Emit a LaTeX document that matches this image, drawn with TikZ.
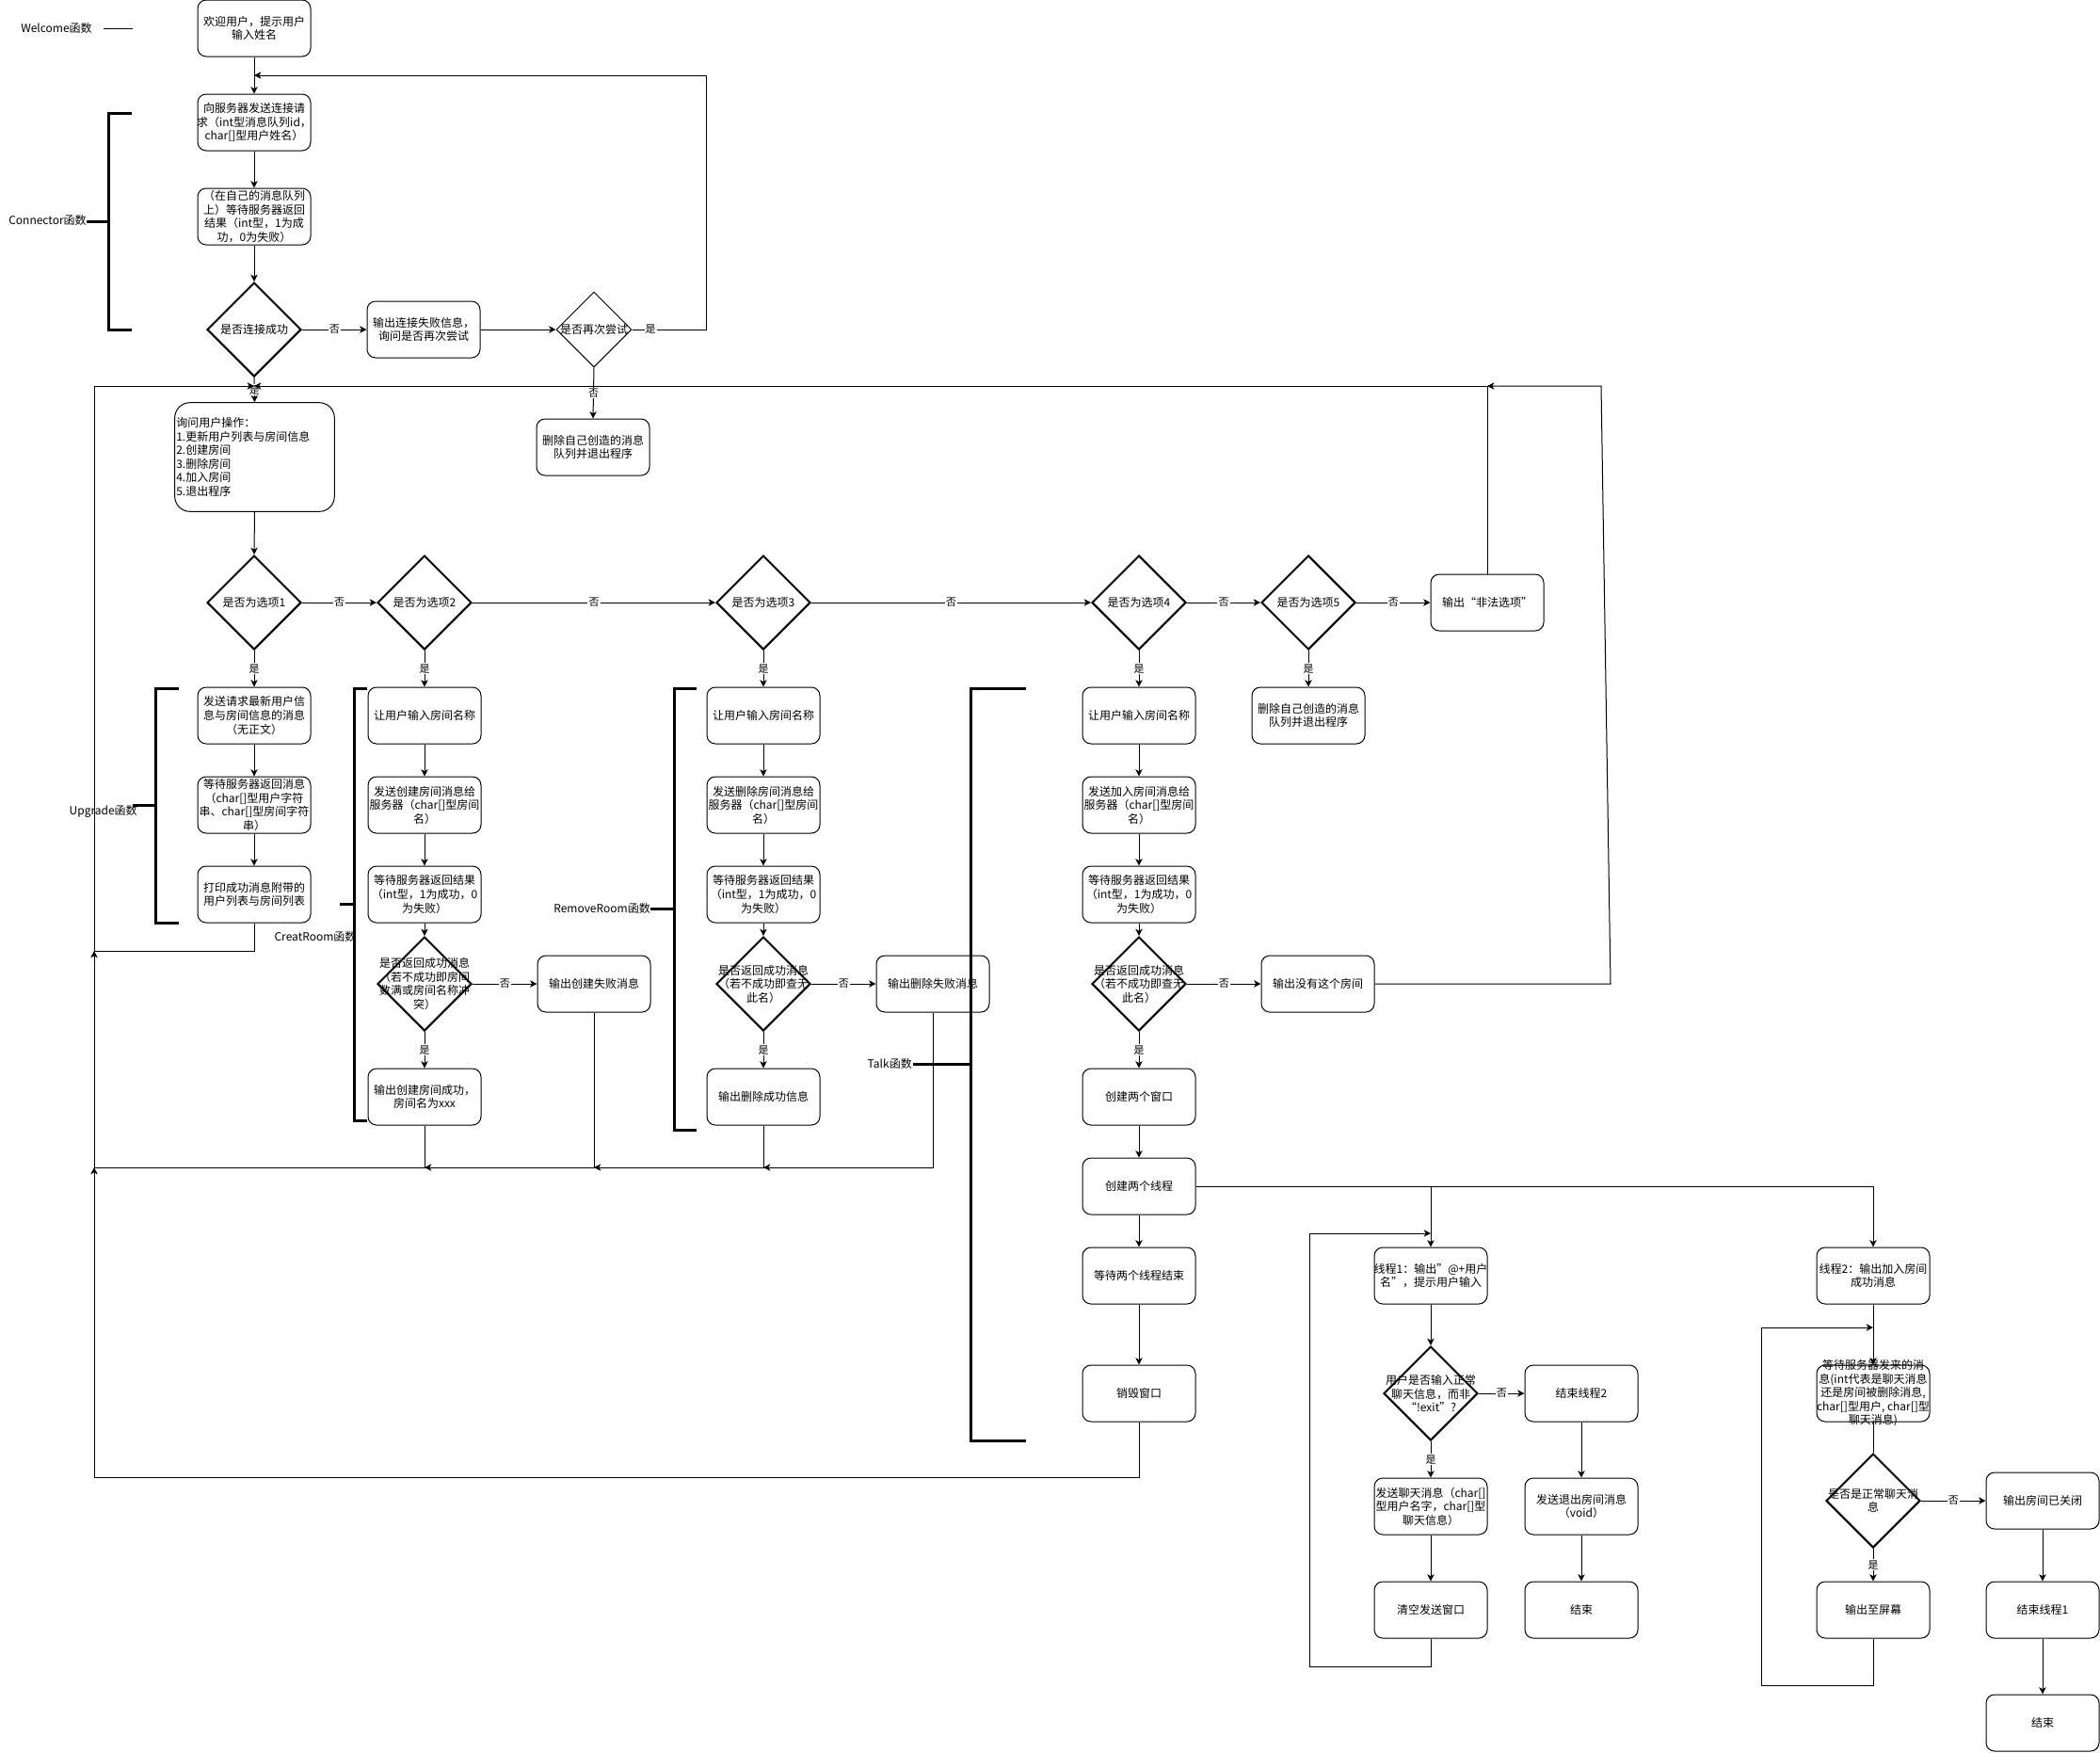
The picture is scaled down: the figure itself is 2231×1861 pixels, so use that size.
\documentclass[tikz,border=0pt]{standalone}
\usepackage{fontspec}
\setmainfont{Noto Sans CJK SC}
\usetikzlibrary{arrows.meta,shapes.geometric}
\newcommand\fs{\fontsize{9}{10.9}\selectfont}
\newcommand\mkshape[4][box]{\node[#1] (#2) at (#3) {};\node[txt] (#2t) at (#2.center) {#4};}
\begin{document}
\begin{tikzpicture}[x=0.75pt,y=-0.75pt,
  txt/.style={font=\fs, align=center, inner sep=0pt},
  box/.style={draw, rounded corners=6.75pt, minimum width=90pt, minimum height=45pt, inner sep=0pt, line width=0.75pt},
  bigbox/.style={box, rounded corners=12pt, minimum width=127.2pt, minimum height=86.7pt},
  dia/.style={draw, diamond, minimum width=75pt, minimum height=75pt, inner sep=0pt, line width=1.5pt},
  thindia/.style={dia, line width=0.75pt, minimum width=60pt, minimum height=60pt},
  arr/.style={-{Stealth[length=5.5pt,width=5.5pt,inset=1.5pt]}, line width=0.75pt},
  line/.style={line width=0.75pt},
  brk/.style={line width=2.25pt},
  lbl/.style={fill=white, font=\fontsize{8.25}{9}\selectfont, inner sep=0.8pt}]
\fill[white] (0,0) rectangle (2231,1861);
\useasboundingbox (0,0) rectangle (2231,1861);

% ---------- top part ----------
\mkshape{b1}{270,30}{欢迎用户，提示用户\\输入姓名}
\mkshape{b2}{270,130}{向服务器发送连接请\\求（int型消息队列id，\\char[]型用户姓名）}
\mkshape{b3}{270,230}{（在自己的消息队列\\上）等待服务器返回\\结果（int型，1为成\\功，0为失败）}
\mkshape[dia]{d0}{270,350}{是否连接成功}
\mkshape{b4}{450,350}{输出连接失败信息，\\询问是否再次尝试}
\mkshape[thindia]{retry}{631,350}{是否再次尝试}
\mkshape{qa}{630,475}{删除自己创造的消息\\队列并退出程序}
\node[bigbox] (ask) at (270.5,485.5) {};
\node[txt, align=left, anchor=west] (askt) at (187,485.5) {询问用户操作：\\1.更新用户列表与房间信息\\2.创建房间\\3.删除房间\\4.加入房间\\5.退出程序};

% ---------- option row ----------
\mkshape[dia]{d1}{270,640}{是否为选项1}
\mkshape[dia]{d2}{451,640}{是否为选项2}
\mkshape[dia]{d3}{811,640}{是否为选项3}
\mkshape[dia]{d4}{1210,640}{是否为选项4}
\mkshape[dia]{d5}{1390,640}{是否为选项5}
\mkshape{ill}{1580,640}{输出“非法选项”}

% ---------- Upgrade ----------
\mkshape{u1}{270,760}{发送请求最新用户信\\息与房间信息的消息\\（无正文）}
\mkshape{u2}{270,855}{等待服务器返回消息\\（char[]型用户字符\\串、char[]型房间字符\\串）}
\mkshape{u3}{270,950}{打印成功消息附带的\\用户列表与房间列表}

% ---------- CreatRoom ----------
\mkshape{c1}{451,760}{让用户输入房间名称}
\mkshape{c2}{451,855}{发送创建房间消息给\\服务器（char[]型房间\\名）}
\mkshape{c3}{451,950}{等待服务器返回结果\\（int型，1为成功，0\\为失败）}
\mkshape[dia]{c4}{451,1045}{是否返回成功消息\\（若不成功即房间\\数满或房间名称冲\\突）}
\mkshape{c5}{451,1165}{输出创建房间成功，\\房间名为xxx}
\mkshape{cf}{631,1045}{输出创建失败消息}

% ---------- RemoveRoom ----------
\mkshape{r1}{811,760}{让用户输入房间名称}
\mkshape{r2}{811,855}{发送删除房间消息给\\服务器（char[]型房间\\名）}
\mkshape{r3}{811,950}{等待服务器返回结果\\（int型，1为成功，0\\为失败）}
\mkshape[dia]{r4}{811,1045}{是否返回成功消息\\（若不成功即查无\\此名）}
\mkshape{r5}{811,1165}{输出删除成功信息}
\mkshape{rf}{991,1045}{输出删除失败消息}

% ---------- Join ----------
\mkshape{j1}{1210,760}{让用户输入房间名称}
\mkshape{j2}{1210,855}{发送加入房间消息给\\服务器（char[]型房间\\名）}
\mkshape{j3}{1210,950}{等待服务器返回结果\\（int型，1为成功，0\\为失败）}
\mkshape[dia]{j4}{1210,1045}{是否返回成功消息\\（若不成功即查无\\此名）}
\mkshape{j5}{1210,1165}{创建两个窗口}
\mkshape{jf}{1400,1045}{输出没有这个房间}
\mkshape{q5}{1390,760}{删除自己创造的消息\\队列并退出程序}

% ---------- Talk ----------
\mkshape{th}{1210,1260}{创建两个线程}
\mkshape{wt}{1210,1355}{等待两个线程结束}
\mkshape{ds}{1210,1480}{销毁窗口}
\mkshape{t1}{1520,1355}{线程1：输出"@+用户\\名”，提示用户输入}
\mkshape[dia]{q1}{1520,1480}{用户是否输入正常\\聊天信息，而非\\“!exit”?}
\mkshape{e2}{1680,1480}{结束线程2}
\mkshape{snd}{1520,1600}{发送聊天消息（char[]\\型用户名字，char[]型\\聊天信息）}
\mkshape{clr}{1520,1710}{清空发送窗口}
\mkshape{qt}{1680,1600}{发送退出房间消息\\（void）}
\mkshape{fin1}{1680,1710}{结束}
\mkshape{t2}{1990,1355}{线程2：输出加入房间\\成功消息}
\mkshape{wm}{1990,1480}{等待服务器发来的消\\息(int代表是聊天消息\\还是房间被删除消息,\\char[]型用户, char[]型\\聊天消息)}
\mkshape[dia]{q2}{1990,1594}{是否是正常聊天消\\息}
\mkshape{scr}{1990,1710}{输出至屏幕}
\mkshape{cls}{2170,1594}{输出房间已关闭}
\mkshape{et1}{2170,1710}{结束线程1}
\mkshape{fin2}{2170,1830}{结束}

% ---------- coordinates for joins ----------
\coordinate (kTop) at (270,80);
\coordinate (kAsk) at (270,410);
\coordinate (kU) at (100,1010);
\coordinate (kC) at (100,1240);
\coordinate (kC5) at (451,1240);
\coordinate (kCF) at (631,1240);
\coordinate (kR5) at (811,1240);
\coordinate (kB) at (100,1569);
\coordinate (kIll) at (1580,410);
\coordinate (kT1) at (1520,1310);
\coordinate (kT2) at (1990,1410);

% ---------- connectors: top ----------
\draw[arr] (b1.south) -- (b2.north);
\draw[arr] (b2.south) -- (b3.north);
\draw[arr] (b3.south) -- (d0.north);
\draw[arr] (d0.east) -- node[lbl]{否} (b4.west);
\draw[arr] (b4.east) -- (retry.west);
\draw[arr] (retry.east) -- node[lbl,pos=0.25]{是} (750,350) |- (kTop);
\draw[arr] (retry.south) -- node[lbl]{否} (qa.north);
\draw[arr] (d0.south) -- node[lbl]{是} (ask.north);
\draw[arr] (ask.south) -- (d1.north);

% ---------- option row ----------
\draw[arr] (d1.east) -- node[lbl]{否} (d2.west);
\draw[arr] (d2.east) -- node[lbl]{否} (d3.west);
\draw[arr] (d3.east) -- node[lbl]{否} (d4.west);
\draw[arr] (d4.east) -- node[lbl]{否} (d5.west);
\draw[arr] (d5.east) -- node[lbl]{否} (ill.west);
\draw[arr] (d1.south) -- node[lbl]{是} (u1.north);
\draw[arr] (d2.south) -- node[lbl]{是} (c1.north);
\draw[arr] (d3.south) -- node[lbl]{是} (r1.north);
\draw[arr] (d4.south) -- node[lbl]{是} (j1.north);
\draw[arr] (d5.south) -- node[lbl]{是} (q5.north);

% ---------- columns ----------
\draw[arr] (u1.south) -- (u2.north);
\draw[arr] (u2.south) -- (u3.north);
\draw[arr] (c1.south) -- (c2.north);
\draw[arr] (c2.south) -- (c3.north);
\draw[arr] (c3.south) -- (c4.north);
\draw[arr] (c4.south) -- node[lbl]{是} (c5.north);
\draw[arr] (c4.east) -- node[lbl]{否} (cf.west);
\draw[arr] (r1.south) -- (r2.north);
\draw[arr] (r2.south) -- (r3.north);
\draw[arr] (r3.south) -- (r4.north);
\draw[arr] (r4.south) -- node[lbl]{是} (r5.north);
\draw[arr] (r4.east) -- node[lbl]{否} (rf.west);
\draw[arr] (j1.south) -- (j2.north);
\draw[arr] (j2.south) -- (j3.north);
\draw[arr] (j3.south) -- (j4.north);
\draw[arr] (j4.south) -- node[lbl]{是} (j5.north);
\draw[arr] (j4.east) -- node[lbl]{否} (jf.west);

% ---------- return loops ----------
\draw[arr] (u3.south) |- (kU) |- (kAsk);
\draw[arr] (c5.south) |- (kC) -- (kU);
\draw[arr] (cf.south) |- (kC5);
\draw[arr] (r5.south) |- (kCF);
\draw[arr] (rf.south) |- (kR5);
\draw[arr] (ds.south) |- (kB) -- (kC);
\draw[arr] (ill.north) |- (kAsk);
\draw[arr] (jf.east) -- (1711,1045) -- (1701,410) -- (kIll);

% ---------- Talk ----------
\draw[arr] (j5.south) -- (th.north);
\draw[arr] (th.south) -- (wt.north);
\draw[arr] (wt.south) -- (ds.north);
\draw[arr] (th.east) -| (t1.north);
\draw[arr] (th.east) -| (t2.north);
\draw[arr] (t1.south) -- (q1.north);
\draw[arr] (q1.east) -- node[lbl]{否} (e2.west);
\draw[arr] (q1.south) -- node[lbl]{是} (snd.north);
\draw[arr] (snd.south) -- (clr.north);
\draw[arr] (e2.south) -- (qt.north);
\draw[arr] (qt.south) -- (fin1.north);
\draw[arr] (clr.south) |- (1391,1770) |- (kT1);
\draw[arr] (t2.south) -- (wm.north);
\draw[line] (wm.south) -- (q2.north);
\draw[arr] (q2.east) -- node[lbl]{否} (cls.west);
\draw[arr] (q2.south) -- node[lbl]{是} (scr.north);
\draw[arr] (cls.south) -- (et1.north);
\draw[arr] (et1.south) -- (fin2.north);
\draw[arr] (scr.south) |- (1871,1790) |- (kT2);

% ---------- function brackets ----------
\node[txt, anchor=east] (welt) at (98,30) {Welcome函数};
\draw[line] (110,30) -- (141,30);
\node[txt, anchor=east] (cont) at (92,234) {Connector函数};
\draw[brk] (140,120) -- (115,120) -- (115,350) -- (140,350);
\draw[brk] (92,235) -- (115,235);
\node[txt, anchor=east] (upt) at (146,862) {Upgrade函数};
\draw[brk] (190,731) -- (165,731) -- (165,980) -- (190,980);
\draw[brk] (141,855) -- (165,855);
\node[txt] (crt) at (335,995) {CreatRoom函数};
\draw[brk] (390,731) -- (376,731) -- (376,1190) -- (390,1190);
\draw[brk] (361,960) -- (376,960);
\node[txt, anchor=east] (rmt) at (691,965) {RemoveRoom函数};
\draw[brk] (740,731) -- (716,731) -- (716,1200) -- (740,1200);
\draw[brk] (691,965) -- (716,965);
\node[txt, anchor=east] (tkt) at (969,1130) {Talk函数};
\draw[brk] (1090,731) -- (1031,731) -- (1031,1530) -- (1090,1530);
\draw[brk] (970,1130) -- (1031,1130);
\end{tikzpicture}
\end{document}
